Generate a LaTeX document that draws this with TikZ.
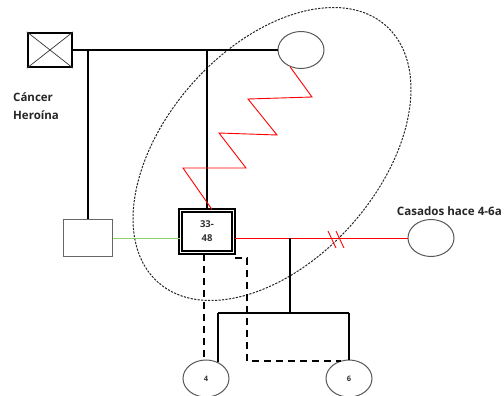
\documentclass[tikz,border=0pt]{standalone}
\usepackage{fontspec}
\setmainfont{Open Sans}
\usetikzlibrary{shapes.geometric}
\begin{document}
\begin{tikzpicture}[x=1pt,y=-1pt,
  blk/.style={line width=2.5pt, black},
  circ/.style={ellipse, draw=black!65, line width=1pt, minimum width=46pt, minimum height=37pt, inner sep=0pt, font=\bfseries\fontsize{7.5}{8}\selectfont, text=black!80},
  rel/.style={red, line width=0.9pt},
  dsh/.style={line width=2.5pt, dash pattern=on 7pt off 5pt},
  lab/.style={font=\bfseries\fontsize{11.5}{13}\selectfont, text=black!85, inner sep=0pt},
  grp/.style={black!85, line width=1pt, dash pattern=on 2.2pt off 1.3pt},
]
\useasboundingbox (0,0) rectangle (504,396);

% dashed group ellipse
\draw[grp, rotate around={48.4:(272,154)}] (272,154) ellipse [x radius=171.6pt, y radius=106.4pt];

% nodes
\node[draw, line width=2.3pt, minimum width=44pt, minimum height=34pt, inner sep=0pt] (f) at (50,50) {};
\draw[line width=0.7pt, black!80] (f.north west) -- (f.south east) (f.north east) -- (f.south west);
\node[circ] (m) at (301,50) {};
\node[draw=black!60, line width=1pt, minimum width=49pt, minimum height=37pt, inner sep=0pt] (s) at (88,238) {};
\node[draw, line width=2pt, double, double distance=1.6pt, minimum width=53pt, minimum height=42pt, inner sep=0pt,
      align=center, font=\bfseries\fontsize{9.5}{14}\selectfont, text=black!80] (p) at (207,231.5) {33-\\48};
\node[circ] (sp) at (431,238) {};
\node[circ] (c4) at (206,378.5) {4};
\node[circ] (c6) at (349,378.5) {6};

% labels
\node[lab, anchor=base west] (t1) at (13,102) {Cáncer};
\node[lab, anchor=base west] (t2) at (13,120) {Heroína};
\node[lab, anchor=base east, font=\bfseries\fontsize{11.6}{14}\selectfont] (t3) at (502,215) {Casados hace 4-6a};

% parents' line and descent
\draw[blk] (f.east) -- (m.west);
\draw[blk] (s.north |- f.east) -- (s.north);
\draw[blk] (p.north |- m.west) -- (p.north);

% sibling relation (green)
\draw[green!50!lime!70!black!60, line width=0.7pt] (s.east) -- (s.east -| p.west);

% red zigzag
\draw[rel] (m.237) -- (312,97) -- (248,99) -- (277,135) -- (219,133) -- (246,168) -- (183,168) -- ([xshift=5pt]p.north);

% red marriage line with divorce marks
\draw[rel] (sp.west -| p.east) -- (sp.west);
\draw[rel] (328,231) -- (336,248);
\draw[rel] (336,231) -- (344,248);

% children
\coordinate (mc) at (290,238);
\coordinate (cb) at (290,313);
\draw[blk] (mc) -- (cb);
\draw[blk] (218,313) -- (349,313);
\draw[blk] (218,313) -- (218,362);
\draw[blk] (349,313) -- (c6.north);

% dashed lines
\draw[dsh] ([xshift=-3pt]p.south) -- (204,360);
\coordinate (d1) at (235,258);
\coordinate (d2) at (247,258);
\coordinate (d3) at (247,361);
\draw[dsh] (d1) -- (d2) -- (d3) -- (d3 -| c6.113);
\end{tikzpicture}
\end{document}
